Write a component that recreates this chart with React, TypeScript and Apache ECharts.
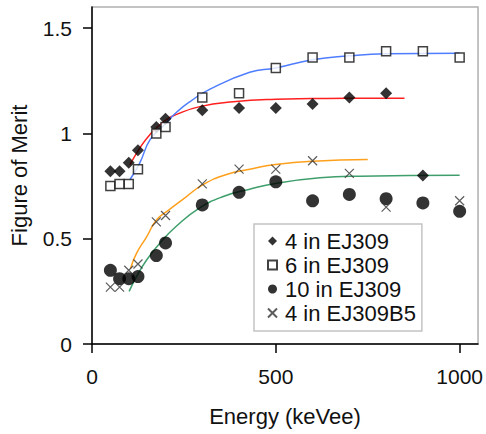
import React, { useEffect, useRef } from "react";
import * as echarts from "echarts";

// Measured points
const energies = [50, 75, 100, 125, 175, 200, 300, 400, 500, 600, 700, 800, 900, 1000];
const fom4EJ309 = [0.82, 0.82, 0.86, 0.92, 1.03, 1.07, 1.11, 1.12, 1.12, 1.14, 1.17, 1.19, 0.8, null];
const fom6EJ309 = [0.75, 0.76, 0.76, 0.83, 1.0, 1.03, 1.17, 1.19, 1.31, 1.36, 1.36, 1.39, 1.39, 1.36];
const fom10EJ309 = [0.35, 0.31, 0.31, 0.32, 0.42, 0.48, 0.66, 0.72, 0.77, 0.68, 0.71, 0.69, 0.67, 0.63];
const fom4EJ309B5 = [0.27, 0.27, 0.35, 0.38, 0.58, 0.61, 0.76, 0.83, 0.83, 0.87, 0.81, 0.65, null, 0.68];

// Fitted curves
const redFitE = [103, 130, 158, 198, 230, 293, 384, 500, 600, 700, 850];
const redFitV = [0.85, 0.93, 0.995, 1.06, 1.09, 1.127, 1.15, 1.162, 1.165, 1.167, 1.167];
const blueFitE = [103, 130, 158, 194, 230, 266, 321, 429, 499, 600, 698, 800, 1000];
const blueFitV = [0.78, 0.86, 0.97, 1.035, 1.1, 1.15, 1.21, 1.29, 1.31, 1.35, 1.368, 1.378, 1.381];
const orangeFitE = [105, 121, 149, 176, 212, 257, 302, 366, 429, 499, 601, 750];
const orangeFitV = [0.36, 0.43, 0.51, 0.59, 0.64, 0.7, 0.757, 0.805, 0.83, 0.852, 0.868, 0.876];
const greenFitE = [101, 121, 149, 185, 230, 293, 357, 429, 499, 620, 728, 1000];
const greenFitV = [0.25, 0.32, 0.4, 0.48, 0.56, 0.646, 0.7, 0.735, 0.762, 0.789, 0.797, 0.801];

const seriesNames = ["4 in EJ309", "6 in EJ309", "10 in EJ309", "4 in EJ309B5"];
const xTicks = [0, 500, 1000];
const yTicks = [0, 0.5, 1, 1.5];

const FONT = "'Liberation Sans', Arial, sans-serif";

function zip(xs: number[], ys: (number | null)[]) {
  const out: number[][] = [];
  xs.forEach((x, i) => {
    const y = ys[i];
    if (y !== null && y !== undefined) out.push([x, y]);
  });
  return out;
}

export default function App() {
  const ref = useRef<HTMLDivElement>(null);
  useEffect(() => {
    if (!ref.current) return;
    const chart = echarts.init(ref.current, undefined, { renderer: "svg" });
    const fitLine = (data: number[][], color: string) => ({
      type: "line",
      data,
      smooth: true,
      symbol: "none",
      silent: true,
      z: 1,
      lineStyle: { color, width: 1.5 },
    });
    chart.setOption({
      animation: false,
      backgroundColor: "#fff",
      textStyle: { fontFamily: FONT },
      grid: {
        left: 92,
        right: 7,
        top: 7,
        bottom: 90,
        show: true,
        borderColor: "#b0b0b0",
        borderWidth: 1.5,
        backgroundColor: "transparent",
      },
      xAxis: {
        type: "value",
        min: 0,
        max: 1050,
        interval: 500,
        name: "Energy (keVee)",
        nameLocation: "middle",
        nameGap: 61,
        nameTextStyle: { fontSize: 22, color: "#111", fontFamily: FONT },
        axisLine: { show: true, lineStyle: { color: "#000", width: 1.5 } },
        axisTick: { show: true, length: 9, lineStyle: { color: "#000", width: 1.5 }, customValues: xTicks },
        axisLabel: {
          fontSize: 21,
          color: "#111",
          margin: 22,
          fontFamily: FONT,
          customValues: xTicks,
          formatter: (v: number) => String(v),
        },
        splitLine: { show: false },
      },
      yAxis: {
        type: "value",
        min: 0,
        max: 1.6,
        interval: 0.5,
        name: "Figure of Merit",
        nameLocation: "middle",
        nameGap: 62,
        nameTextStyle: { fontSize: 22, color: "#111", fontFamily: FONT },
        axisLine: { show: true, lineStyle: { color: "#000", width: 1.5 } },
        axisTick: { show: true, length: 9, lineStyle: { color: "#000", width: 1.5 }, customValues: yTicks },
        axisLabel: {
          fontSize: 21,
          color: "#111",
          margin: 20,
          fontFamily: FONT,
          customValues: yTicks,
          formatter: (v: number) => String(v),
        },
        splitLine: { show: false },
      },
      legend: {
        data: seriesNames,
        orient: "vertical",
        left: 254,
        top: 224,
        padding: [5, 6, 6, 13],
        itemGap: 0,
        itemWidth: 9,
        itemHeight: 9,
        backgroundColor: "#fff",
        borderColor: "#c4c4c4",
        borderWidth: 1.5,
        selectedMode: false,
        textStyle: { fontSize: 22, lineHeight: 24, color: "#111", fontFamily: FONT, padding: [0, 0, 0, 3] },
      },
      series: [
        fitLine(zip(redFitE, redFitV), "#ff1f1f"),
        fitLine(zip(blueFitE, blueFitV), "#4f7dff"),
        fitLine(zip(orangeFitE, orangeFitV), "#ffa01c"),
        fitLine(zip(greenFitE, greenFitV), "#3f9f6c"),
        {
          type: "scatter",
          name: seriesNames[0],
          data: zip(energies, fom4EJ309),
          symbol: "diamond",
          symbolSize: 12,
          z: 3,
          itemStyle: { color: "#000" },
        },
        {
          type: "scatter",
          name: seriesNames[1],
          data: zip(energies, fom6EJ309),
          symbol: "rect",
          symbolSize: 9,
          z: 3,
          itemStyle: { color: "#fff", borderColor: "#111", borderWidth: 1.5 },
        },
        {
          type: "scatter",
          name: seriesNames[2],
          data: zip(energies, fom10EJ309),
          symbol: "circle",
          symbolSize: 13,
          z: 3,
          itemStyle: { color: "#000" },
        },
        {
          type: "scatter",
          name: seriesNames[3],
          data: zip(energies, fom4EJ309B5),
          symbol: "path://M0,0L10,10M10,0L0,10",
          symbolSize: 9,
          z: 4,
          itemStyle: { color: "transparent", borderColor: "#333", borderWidth: 1.2 },
        },
      ],
    });
    return () => chart.dispose();
  }, []);
  return (
    <div
      ref={ref}
      style={{ position: "fixed", left: 0, top: 0, width: 486, height: 434, background: "#fff" }}
    />
  );
}
